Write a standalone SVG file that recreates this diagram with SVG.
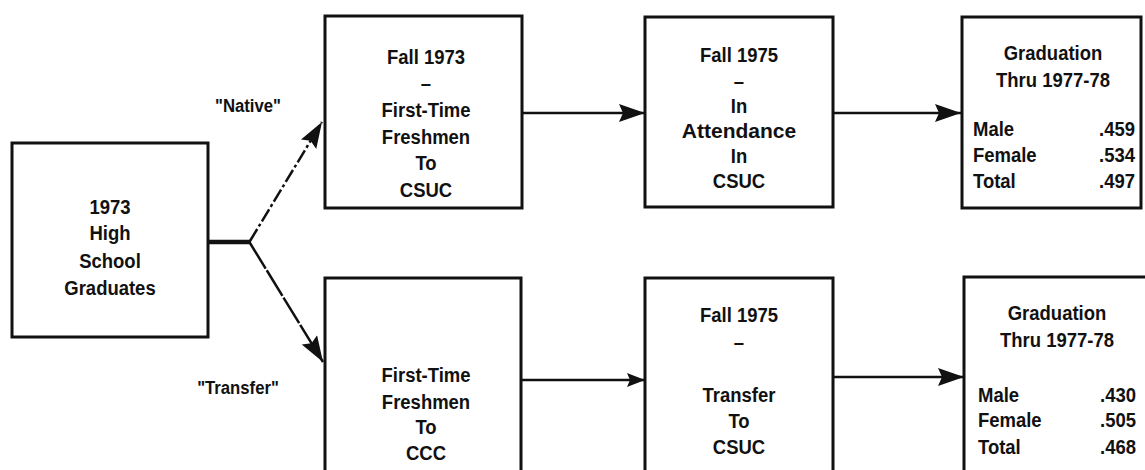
<svg xmlns="http://www.w3.org/2000/svg" width="1145" height="470" viewBox="0 0 1145 470">
<style>
  .box { fill: #fff; stroke: #111; stroke-width: 3; }
  .t { font-family: "Liberation Sans", Arial, sans-serif; font-weight: bold; font-size: 21px; fill: #111; }
  .c { text-anchor: middle; }
  .e { text-anchor: end; }
  .lbl { font-size: 19px; }
  .ln { fill: none; stroke: #111; stroke-width: 2.5; }
</style>
<defs>
  <marker id="ah" markerUnits="userSpaceOnUse" markerWidth="28" markerHeight="20" refX="26" refY="9" orient="auto">
    <path d="M0,0 L26,9 L0,18 L4,9 z" fill="#111"/>
  </marker>
  <marker id="ahs" markerUnits="userSpaceOnUse" markerWidth="20" markerHeight="16" refX="18" refY="7" orient="auto">
    <path d="M0,0 L18,7 L0,14 L3,7 z" fill="#111"/>
  </marker>
</defs>
<rect width="1145" height="470" fill="#fff"/>

<g id="connectors">
  <line x1="206" y1="242" x2="251" y2="242" stroke="#111" stroke-width="4.5"/>
  <line class="ln" x1="250" y1="241" x2="322" y2="122" stroke-dasharray="14 3 3 3" marker-end="url(#ah)"/>
  <line class="ln" x1="250" y1="243" x2="323" y2="362" stroke-dasharray="30 2" marker-end="url(#ah)"/>
  <line class="ln" x1="522" y1="113" x2="645" y2="113" marker-end="url(#ah)"/>
  <line class="ln" x1="833" y1="113" x2="961" y2="113" marker-end="url(#ah)"/>
  <line class="ln" x1="521" y1="380" x2="645" y2="380" marker-end="url(#ahs)"/>
  <line class="ln" x1="833" y1="377" x2="964" y2="377" marker-end="url(#ah)"/>
  <text class="t lbl c" transform="translate(248 112) scale(0.88 1)">"Native"</text>
  <text class="t lbl c" transform="translate(238 394) scale(0.88 1)">"Transfer"</text>
</g>

<g id="hs-graduates">
  <rect class="box" x="12" y="143" width="196" height="194"/>
  <text class="t c" transform="translate(110 214) scale(0.88 1)">1973</text>
  <text class="t c" transform="translate(110 240) scale(0.88 1)">High</text>
  <text class="t c" transform="translate(110 268) scale(0.88 1)">School</text>
  <text class="t c" transform="translate(110 295) scale(0.88 1)">Graduates</text>
</g>

<g id="fall73-csuc">
  <rect class="box" x="325" y="16" width="197" height="192"/>
  <text class="t c" transform="translate(426 64) scale(0.88 1)">Fall 1973</text>
  <text class="t c" transform="translate(426 90) scale(0.88 1)">–</text>
  <text class="t c" transform="translate(426 117) scale(0.88 1)">First-Time</text>
  <text class="t c" transform="translate(426 144) scale(0.88 1)">Freshmen</text>
  <text class="t c" transform="translate(426 170) scale(0.88 1)">To</text>
  <text class="t c" transform="translate(426 197) scale(0.88 1)">CSUC</text>
</g>

<g id="fall75-attendance">
  <rect class="box" x="645" y="17" width="188" height="190"/>
  <text class="t c" transform="translate(739 62) scale(0.88 1)">Fall 1975</text>
  <text class="t c" transform="translate(739 88) scale(0.88 1)">–</text>
  <text class="t c" transform="translate(739 113) scale(0.88 1)">In</text>
  <text class="t c" transform="translate(739 138) scale(1 1)">Attendance</text>
  <text class="t c" transform="translate(739 163) scale(0.88 1)">In</text>
  <text class="t c" transform="translate(739 188) scale(0.88 1)">CSUC</text>
</g>

<g id="grad-native">
  <rect class="box" x="962" y="17" width="179" height="191"/>
  <text class="t c" transform="translate(1053 60) scale(0.88 1)">Graduation</text>
  <text class="t c" transform="translate(1053 87) scale(0.88 1)">Thru 1977-78</text>
  <text class="t" transform="translate(973 136) scale(0.88 1)">Male</text>
  <text class="t" transform="translate(973 162) scale(0.88 1)">Female</text>
  <text class="t" transform="translate(973 188) scale(0.88 1)">Total</text>
  <text class="t e" transform="translate(1135 136) scale(0.88 1)">.459</text>
  <text class="t e" transform="translate(1135 162) scale(0.88 1)">.534</text>
  <text class="t e" transform="translate(1135 188) scale(0.88 1)">.497</text>
</g>

<g id="ftf-ccc">
  <rect class="box" x="325" y="278" width="196" height="200"/>
  <text class="t c" transform="translate(426 382) scale(0.88 1)">First-Time</text>
  <text class="t c" transform="translate(426 409) scale(0.88 1)">Freshmen</text>
  <text class="t c" transform="translate(426 434) scale(0.88 1)">To</text>
  <text class="t c" transform="translate(426 460) scale(0.88 1)">CCC</text>
</g>

<g id="fall75-transfer">
  <rect class="box" x="645" y="278" width="188" height="200"/>
  <text class="t c" transform="translate(739 322) scale(0.88 1)">Fall 1975</text>
  <text class="t c" transform="translate(739 349) scale(0.88 1)">–</text>
  <text class="t c" transform="translate(739 402) scale(0.88 1)">Transfer</text>
  <text class="t c" transform="translate(739 428) scale(0.88 1)">To</text>
  <text class="t c" transform="translate(739 454) scale(0.88 1)">CSUC</text>
</g>

<g id="grad-transfer">
  <rect class="box" x="964" y="277" width="190" height="200"/>
  <text class="t c" transform="translate(1057 320) scale(0.88 1)">Graduation</text>
  <text class="t c" transform="translate(1057 347) scale(0.88 1)">Thru 1977-78</text>
  <text class="t" transform="translate(978 402) scale(0.88 1)">Male</text>
  <text class="t" transform="translate(978 427) scale(0.88 1)">Female</text>
  <text class="t" transform="translate(978 454) scale(0.88 1)">Total</text>
  <text class="t e" transform="translate(1136 402) scale(0.88 1)">.430</text>
  <text class="t e" transform="translate(1136 427) scale(0.88 1)">.505</text>
  <text class="t e" transform="translate(1136 454) scale(0.88 1)">.468</text>
</g>
</svg>
